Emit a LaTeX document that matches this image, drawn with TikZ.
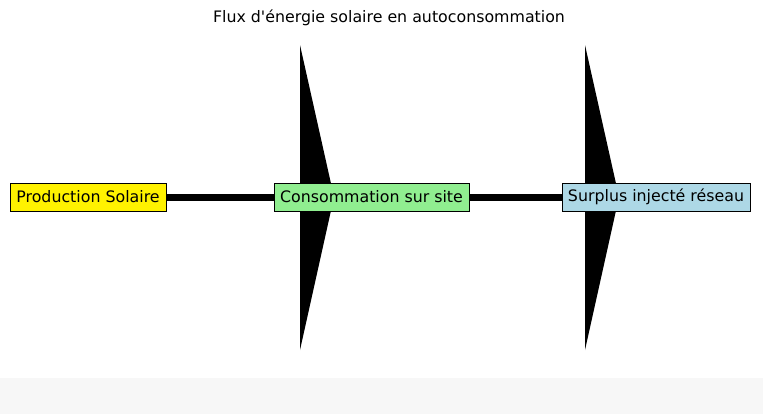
\documentclass[tikz,border=0pt]{standalone}
\usepackage{fontspec}
\setmainfont{DejaVu Sans}
\usetikzlibrary{positioning, backgrounds}
\definecolor{lightblue}{HTML}{ADD8E6}
\definecolor{lightgreen}{HTML}{90EE90}

\begin{document}
\begin{tikzpicture}[x=0.02cm,y=-0.02cm,
            flux/.style={draw=black,thin,inner sep=0pt,minimum height=0.56cm,font=\fontsize{9}{10}\selectfont},
            pipe/.style={line width=0.14cm},
            head/.style={fill=black}
        ]
            % Canvas
            \fill[black!3] (0,378) rectangle (763,414);
            \useasboundingbox (0,0) rectangle (763,414);

            % Title
            \node[font=\fontsize{9}{10}\selectfont] (title) at (389,18) {Flux d\textquotesingle énergie solaire en autoconsommation};

            % Stages
            \node[flux,fill=yellow,minimum width=3.12cm] (prod) at (88,197) {Production Solaire};
            \node[flux,fill=lightgreen,minimum width=3.9cm] (cons) at (371.5,197) {Consommation sur site};
            \node[flux,fill=lightblue,minimum width=3.76cm] (surp) at (656,197) {Surplus injecté réseau};

            % Connections
            \begin{scope}[on background layer]
                \draw[pipe] (prod) -- (cons);
                \draw[pipe] (cons) -- (surp);
                \fill[head] (300,45) -- (334,197) -- (300,350) -- cycle;
                \fill[head] (585,45) -- (619,197) -- (585,350) -- cycle;
            \end{scope}
        \end{tikzpicture}
\end{document}
